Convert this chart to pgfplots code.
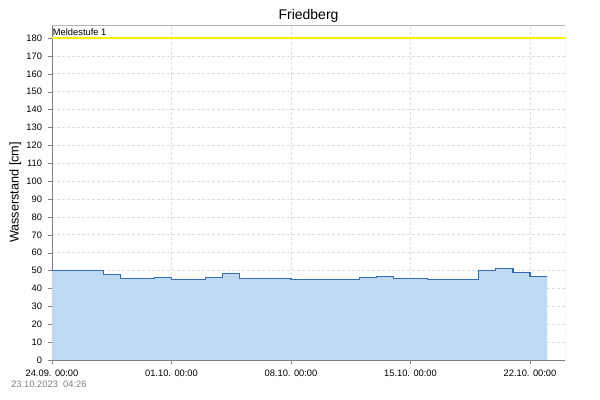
\documentclass[border=0pt]{standalone}
\usepackage{pgfplots}
\pgfplotsset{compat=1.18}
\usetikzlibrary{calc}
\usepackage{fontspec}
\setmainfont{Liberation Sans}
\definecolor{fillblue}{RGB}{191,217,242}
\definecolor{lineblue}{RGB}{52,110,184}
\definecolor{gridgray}{RGB}{222,222,222}
\definecolor{axisgray}{RGB}{128,128,128}
\definecolor{axislight}{RGB}{180,180,180}
\begin{document}
\begin{tikzpicture}
\begin{axis}[
  scale only axis,
  width=384.75pt, height=251.25pt,
  xmin=0, xmax=30.05, ymin=0, ymax=187.3,
  xtick={0,7,14,21,28},
  xticklabels={24.09. 00:00,01.10. 00:00,08.10. 00:00,15.10. 00:00,22.10. 00:00},
  ytick={0,10,...,180},
  tick align=outside,
  major tick length=3pt,
  tick style={axisgray},
  axis line style={axisgray},
  /pgf/number format/assume math mode=true,
  ticklabel style={font=\fontsize{7}{8}\selectfont},
  yticklabel style={xshift=-1pt},
  xticklabel style={yshift=-1pt},
  grid=major,
  major grid style={gridgray, dash pattern=on 2.25pt off 1.5pt, line width=0.6pt},
  title={Friedberg},
  title style={font=\fontsize{10.5}{12}\selectfont, yshift=-7.5pt},
  ylabel={Wasserstand [cm]},
  ylabel style={font=\fontsize{9.5}{11}\selectfont, yshift=-3pt},
  axis x line*=bottom, axis y line*=left,
  clip=true,
]
\addplot[const plot, fill=fillblue, draw=none] coordinates {
(0,50) (3,48) (4,45.7) (6,46.2) (7,45.2) (9,46.2) (10,48.4) (11,45.7) (14,45.2) (18,46.2) (19,46.8) (20,45.7) (22,45.2) (25,50.1) (26,51.3) (27,49.1) (28,46.8) (29,46.8)
} \closedcycle;
\addplot[const plot, draw=lineblue, line width=0.9pt] coordinates {
(0,50) (3,48) (4,45.7) (6,46.2) (7,45.2) (9,46.2) (10,48.4) (11,45.7) (14,45.2) (18,46.2) (19,46.8) (20,45.7) (22,45.2) (25,50.1) (26,51.3) (27,49.1) (28,46.8) (29,46.8)
};
\addplot[draw=yellow, line width=1.2pt] coordinates {(0,180) (30.05,180)};
\node[anchor=south west, inner sep=0.5pt, font=\fontsize{7}{8}\selectfont] at (axis cs:0,181) {Meldestufe 1};
\draw[axislight] (rel axis cs:0,1) -- (rel axis cs:1,1) -- (rel axis cs:1,0);
\coordinate (O) at (rel axis cs:0,0);
\end{axis}
\node[anchor=west, text=gray, font=\fontsize{7}{8}\selectfont, inner sep=0pt] at ($(O)+(-30.75pt,-18.5pt)$) {23.10.2023\ \ 04:26};
\path (O) ++(-39pt,-30pt) rectangle ++(450pt,300pt);
\end{tikzpicture}
\end{document}
